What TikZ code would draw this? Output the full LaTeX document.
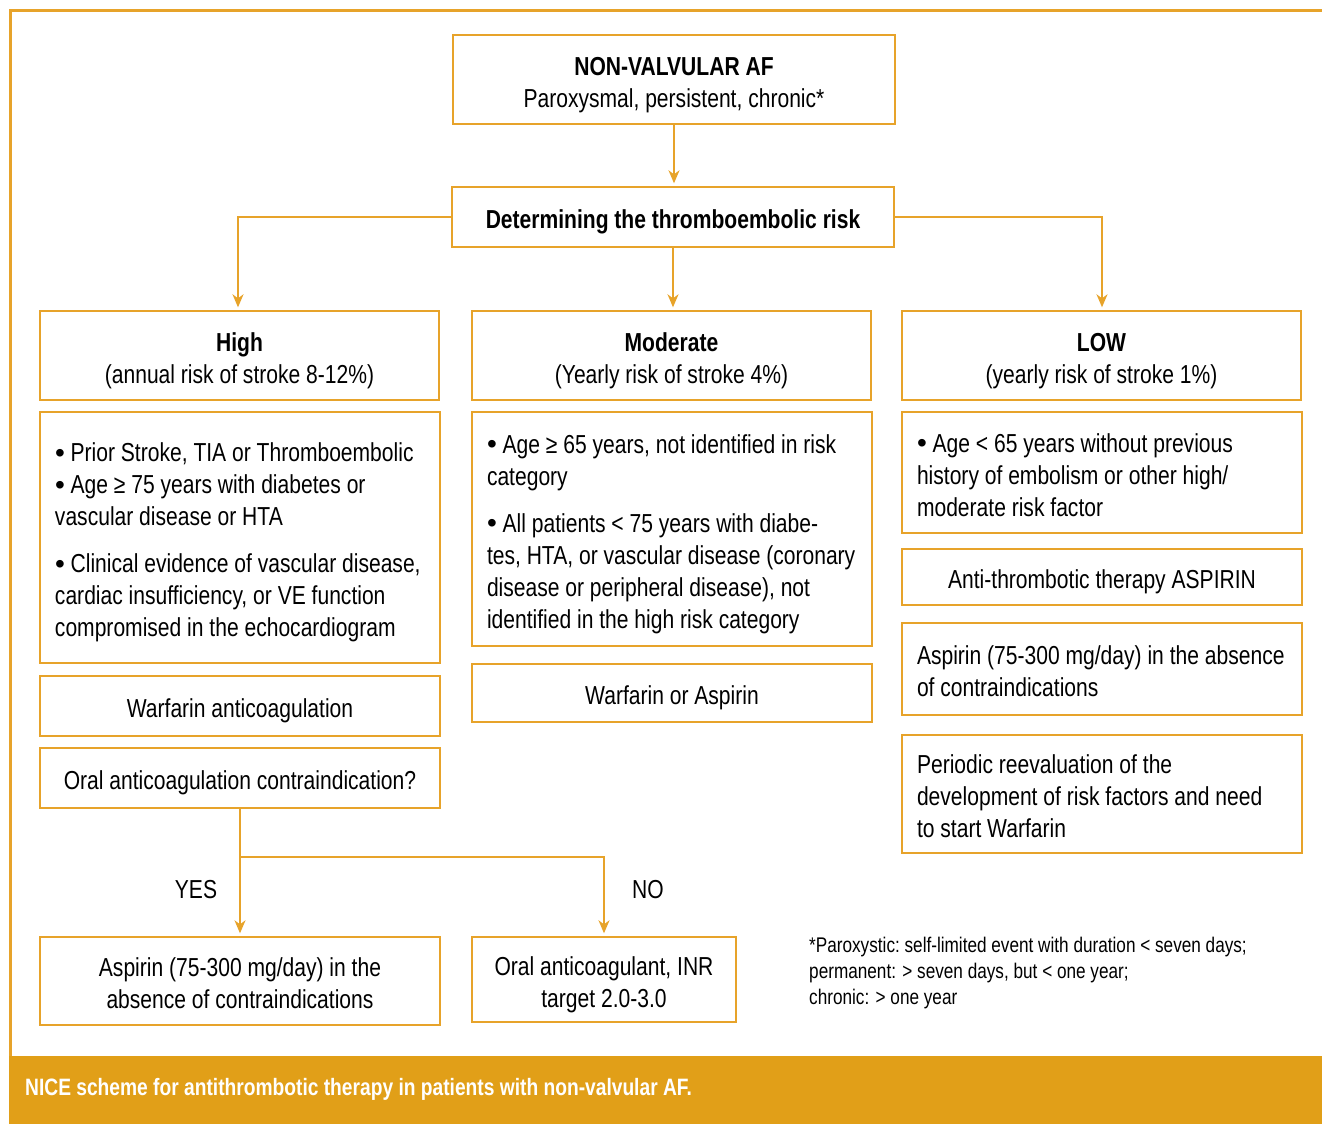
\documentclass[tikz,border=0pt]{standalone}
\usepackage{fontspec}
\setmainfont{Liberation Sans}[FakeStretch=0.81]
\newfontfamily\bulfont{Liberation Sans}
\usetikzlibrary{arrows.meta}
\definecolor{ocline}{RGB}{231,163,42}
\definecolor{ocfill}{RGB}{225,159,24}
\newcommand\bodyfs{\fontsize{26}{32}\selectfont}
\newcommand\notefs{\fontsize{21.2}{26}\selectfont}
\newcommand\capfs{\fontsize{23.7}{28}\selectfont}
\newcommand\bul{{\bulfont\fontsize{28}{32}\selectfont\raisebox{-0.5pt}{•}}}
\newcommand\topstrut{\rule{0pt}{31pt}}
\newcommand\botstrut{\rule[-8pt]{0pt}{0pt}}
\newcommand\normsp{\frenchspacing\spaceskip=0pt\xspaceskip=0pt\relax}
\tikzset{
  box/.style={draw=ocline, line width=1.4pt, inner sep=0pt, font=\bodyfs, align=center,
    execute at begin node={\normsp\topstrut}, execute at end node={\botstrut}},
  lbox/.style={box, align=left},
  arr/.style={draw=ocline, line width=1.6pt, -{Stealth[length=13pt,width=11pt,inset=4pt]}, shorten >=3pt},
  lbl/.style={font=\bodyfs, inner sep=0pt}
}
\begin{document}
\begin{tikzpicture}[x=1pt,y=-1pt]
\useasboundingbox (0,0) rectangle (1322,1124);
% frame
\draw[ocline, line width=3pt] (10.5,1124) -- (10.5,10.5) -- (1322,10.5);
\fill[ocfill] (9,1056) rectangle (1322,1124);
\node[anchor=west, text=white, font=\capfs\bfseries, inner sep=0pt] (cap) at (25,1089) {\normsp NICE scheme for antithrombotic therapy in patients with non-valvular AF.};

% nodes
\node[box, minimum width=442, minimum height=89] (top) at (674,79.5) {\topstrut\textbf{NON-VALVULAR AF}\\Paroxysmal, persistent, chronic*};
\node[box, minimum width=442, minimum height=60] (det) at (673,217) {\textbf{Determining the thromboembolic risk}};
\node[box, minimum width=399, minimum height=89] (high) at (239.5,355.5) {\topstrut\textbf{High}\\(annual risk of stroke 8-12\%)};
\node[box, minimum width=399, minimum height=89] (mod) at (671.5,355.5) {\topstrut\textbf{Moderate}\\(Yearly risk of stroke 4\%)};
\node[box, minimum width=399, minimum height=89] (low) at (1101.5,355.5) {\topstrut\textbf{LOW}\\(yearly risk of stroke 1\%)};

\node[lbox, minimum width=400, minimum height=251, text width=370] (hcrit) at (240,537.5)
 {\bul\ Prior Stroke, TIA or Thromboembolic\\\bul\ Age ≥ 75 years with diabetes or\\vascular disease or HTA\\[15pt]\bul\ Clinical evidence of vascular disease,\\cardiac insufficiency, or VE function\\compromised in the echocardiogram};
\node[box, minimum width=400, minimum height=60] (warf) at (240,706) {Warfarin anticoagulation};
\node[box, minimum width=400, minimum height=60] (oral) at (240,778) {Oral anticoagulation contraindication?};
\node[box, minimum width=400, minimum height=88] (asp1) at (240,981) {\topstrut Aspirin (75-300 mg/day) in the\\absence of contraindications};
\node[box, minimum width=264, minimum height=85] (oac) at (604,979.5) {\topstrut Oral anticoagulant, INR\\target 2.0-3.0};

\node[lbox, minimum width=400, minimum height=234, text width=370] (mcrit) at (672,529)
 {\bul\ Age ≥ 65 years, not identified in risk\\category\\[15pt]\bul\ All patients < 75 years with diabe-\\tes, HTA, or vascular disease (coronary\\disease or peripheral disease), not\\identified in the high risk category};
\node[box, minimum width=400, minimum height=58] (woa) at (672,693) {Warfarin or Aspirin};

\node[lbox, minimum width=400, minimum height=121, text width=370] (lcrit) at (1102,472.5)
 {\bul\ Age < 65 years without previous\\history of embolism or other high/\\moderate risk factor};
\node[box, minimum width=400, minimum height=56] (anti) at (1102,577) {Anti-thrombotic therapy ASPIRIN};
\node[lbox, minimum width=400, minimum height=92, text width=370] (asp2) at (1102,669) {Aspirin (75-300 mg/day) in the absence\\of contraindications};
\node[lbox, minimum width=400, minimum height=118, text width=370] (peri) at (1102,794) {Periodic reevaluation of the\\development of risk factors and need\\to start Warfarin};

\node[anchor=north west, align=left, font=\notefs, inner sep=0pt] (note) at (809,937)
 {\normsp *Paroxystic: self-limited event with duration < seven days;\\permanent: > seven days, but < one year;\\chronic: > one year};

% connectors
\draw[arr] (top.south) -- (top.south |- det.north);
\draw[arr] (det.south) -- (det.south |- mod.north);
\draw[arr] (det.west) -| ([xshift=-1.5pt]high.north);
\draw[arr] (det.east) -| ([xshift=0.5pt]low.north);
\coordinate (br) at (oral.south |- 0,857);
\draw[arr] (oral.south) -- (asp1.north);
\draw[arr] (br) -| (oac.north);
\node[lbl] (yes) at (196,890) {YES};
\node[lbl] (no) at (648,890) {NO};
\end{tikzpicture}
\end{document}
